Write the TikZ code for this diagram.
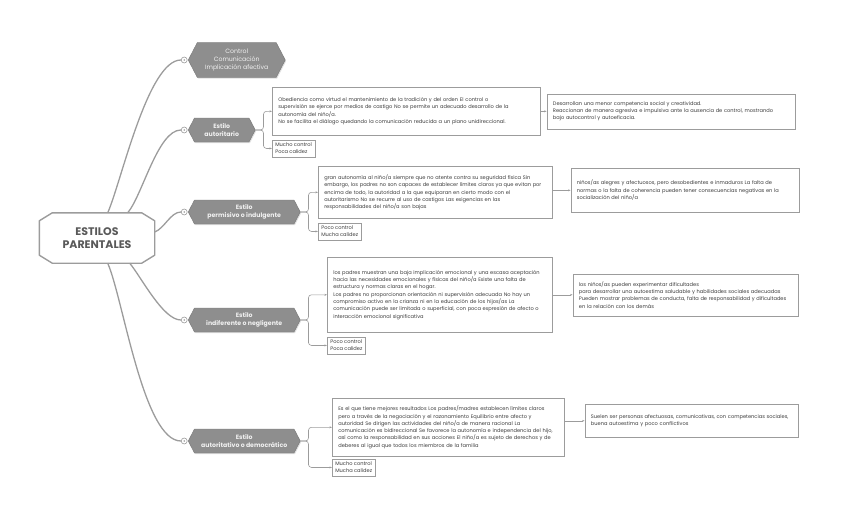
\documentclass[tikz,border=0pt]{standalone}
\usepackage{fontspec}
\setmainfont{Poppins}
\usetikzlibrary{shapes.symbols,arrows.meta,positioning,calc,shadows}
\definecolor{ink}{HTML}{3C3C3C}
\definecolor{edge}{HTML}{9C9C9C}
\definecolor{slate}{HTML}{8E8E8E}

\begin{document}
\begin{tikzpicture}[
  x=1pt, y=-1pt,
  root/.style={rectangle, minimum width=115pt, minimum height=50pt, font=\fontsize{11}{13}\selectfont\bfseries, text=ink!85, align=center},
  rim/.style={edge, line width=1.4pt, line join=round},
  hexa/.style={signal, signal to=east and west, signal pointer angle=125, fill=slate, draw=slate!85!black, minimum height=24pt, inner sep=2pt, font=\fontsize{6.2}{7.6}\selectfont\bfseries, text=white!88!slate, align=center, drop shadow={opacity=0.25, shadow xshift=1pt, shadow yshift=-1pt}},
  knob/.style={circle, draw=edge, fill=white, line width=0.6pt, minimum size=6pt, inner sep=0pt, path picture={\fill[edge] (path picture bounding box.center) circle (0.9pt);}},
  note/.style={rectangle, draw=edge, line width=0.6pt, fill=white, font=\fontsize{5.1}{7.3}\selectfont, text=ink, align=left, inner xsep=6pt, inner ysep=3pt},
  tag/.style={note, inner xsep=3pt, minimum height=17pt, anchor=north west},
  link/.style={edge, line width=1.3pt},
  arrow/.style={-{Stealth[length=2.5pt]}, edge, line width=0.6pt, rounded corners=3pt}
]
\useasboundingbox (0,0) rectangle (848,519);

% root
\node[root] (root) at (97,238) {ESTILOS\\PARENTALES};
\draw[rim] ($(root.north west)+(13,0)$) -- ($(root.north east)+(-13,0)$)
  -- ($(root.north east)+(0,8)$) -- ($(root.south east)+(0,-8)$)
  -- ($(root.south east)+(-13,0)$) -- ($(root.south west)+(13,0)$)
  -- ($(root.south west)+(0,-8)$) -- ($(root.north west)+(0,8)$) -- cycle;

% topics
\node[hexa, anchor=west, minimum width=97pt, minimum height=35pt, font=\fontsize{6.2}{7.6}\selectfont] (h0) at (188,60) {Control\\Comunicación\\Implicación afectiva};
\node[hexa, anchor=west, minimum width=67pt] (h1) at (188,130) {Estilo\\autoritario};
\node[hexa, anchor=west, minimum width=112pt] (h2) at (188,212) {Estilo\\permisivo o indulgente};
\node[hexa, anchor=west, minimum width=112pt] (h3) at (188,320) {Estilo\\indiferente o negligente};
\node[hexa, anchor=west, minimum width=112pt] (h4) at (188,441) {Estilo\\autoritativo o democrático};

\foreach \i in {0,...,4}
  \node[knob, left=0.5pt of h\i.west] (k\i) {};

% descriptions
\node[note, anchor=north west, text width=256pt, minimum height=48pt] (t1) at (272,87) {Obediencia como virtud el mantenimiento de la tradición y del orden El control o\\supervisión se ejerce por medios de castigo No se permite un adecuado desarrollo de la\\autonomía del niño/a.\\No se facilita el diálogo quedando la comunicación reducida a un plano unidireccional.};
\node[note, anchor=north west, text width=222pt, minimum height=52pt] (t2) at (318,166) {gran autonomía al niño/a siempre que no atente contra su seguridad física Sin\\embargo, los padres no son capaces de establecer límites claros ya que evitan por\\encima de todo, la autoridad a la que equiparan en cierto modo con el\\autoritarismo No se recurre al uso de castigos Las exigencias en las\\responsabilidades del niño/a son bajas};
\node[note, anchor=north west, text width=213pt, minimum height=75pt] (t3) at (327,257) {los padres muestran una baja implicación emocional y una escasa aceptación\\hacia las necesidades emocionales y físicas del niño/a Existe una falta de\\estructura y normas claras en el hogar.\\Los padres no proporcionan orientación ni supervisión adecuada No hay un\\compromiso activo en la crianza ni en la educación de los hijos/as La\\comunicación puede ser limitada o superficial, con poca expresión de afecto o\\interacción emocional significativa};
\node[note, anchor=north west, text width=220pt, minimum height=58pt] (t4) at (332,398) {Es el que tiene mejores resultados Los padres/madres establecen límites claros\\pero a través de la negociación y el razonamiento Equilibrio entre afecto y\\autoridad Se dirigen las actividades del niño/a de manera racional La\\comunicación es bidireccional Se favorece la autonomía e independencia del hijo,\\así como la responsabilidad en sus acciones El niño/a es sujeto de derechos y de\\deberes al igual que todos los miembros de la familia};

% control / warmth
\node[tag, below=4pt of t1.south west, anchor=north west] (s1) {Mucho control\\Poca calidez};
\node[tag, below=4pt of t2.south west, anchor=north west] (s2) {Poco control\\Mucha calidez};
\node[tag, below=4pt of t3.south west, anchor=north west] (s3) {Poco control\\Poca calidez};
\node[tag, below=2pt of t4.south west, anchor=north west] (s4) {Mucho control\\Mucha calidez};

% outcomes
\node[note, right=6pt of t1, text width=236pt, minimum height=35pt] (r1) {Desarrollan una menor competencia social y creatividad.\\Reaccionan de manera agresiva e impulsiva ante la ausencia de control, mostrando\\bajo autocontrol y autoeficacia.};
\node[note, right=18pt of t2, yshift=2pt, text width=216pt, minimum height=44pt] (r2) {niños/as alegres y afectuosos, pero desobedientes e inmaduros La falta de\\normas o la falta de coherencia pueden tener consecuencias negativas en la\\socialización del niño/a};
\node[note, right=20pt of t3, text width=213pt, minimum height=42pt] (r3) {los niños/as pueden experimentar dificultades\\para desarrollar una autoestima saludable y habilidades sociales adecuadas\\Pueden mostrar problemas de conducta, falta de responsabilidad y dificultades\\en la relación con los demás};
\node[note, right=20pt of t4, yshift=6.5pt, text width=201pt, minimum height=33pt] (r4) {Suelen ser personas afectuosas, comunicativas, con competencias sociales,\\buena autoestima y poco conflictivos};

% branches
\draw[link] (root.north east) ++(-47,0) coordinate (b0) to[out=66,in=180,looseness=0.5] (k0.west);
\draw[link] (root.north east) ++(-27,0) coordinate (b1) to[out=50,in=180,looseness=0.6] (k1.west);
\draw[link] (root.east) ++(0,-6) coordinate (b2) to[out=20,in=180,looseness=0.8] (k2.west);
\draw[link] (root.south east) ++(-25,0) coordinate (b3) to[out=-50,in=180,looseness=0.6] (k3.west);
\draw[link] (root.south east) ++(-47,0) coordinate (b4) to[out=-66,in=180,looseness=0.5] (k4.west);

\foreach \i in {1,...,4} {
  \draw[arrow] (h\i.east) -- ++(8,0) |- (t\i.west);
  \draw[arrow] (h\i.east) -- ++(8,0) |- (s\i.west);
}
\draw[arrow] (t1) -- (r1);
\draw[arrow] (t2.east |- r2.west) -- (r2);
\draw[arrow] (t3) -- (r3);
\draw[arrow] (t4.east |- r4.west) -- (r4);
\end{tikzpicture}
\end{document}
